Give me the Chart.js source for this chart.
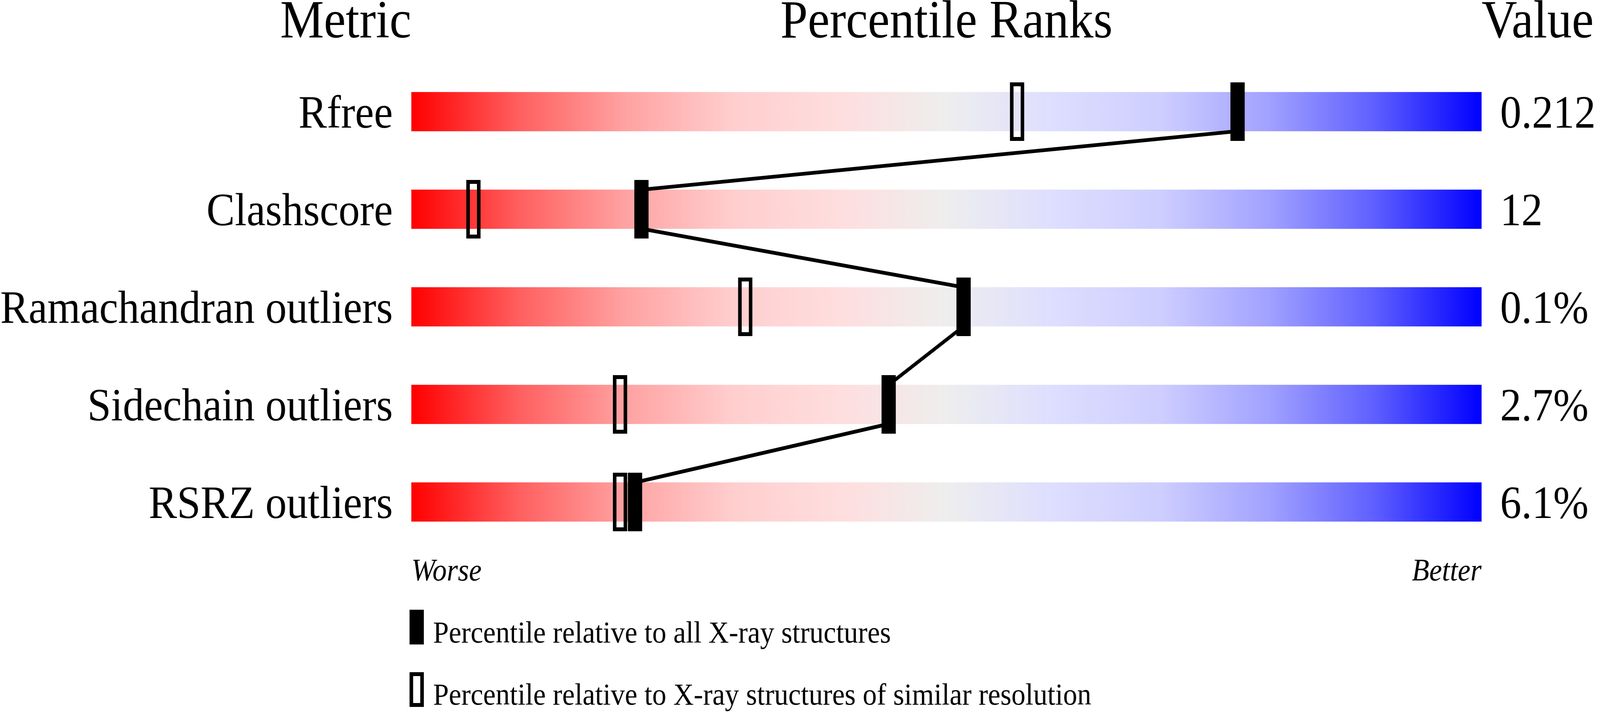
<!DOCTYPE html>
<html>
<head>
<meta charset="utf-8">
<script src="https://cdn.jsdelivr.net/npm/chart.js@4/dist/chart.umd.min.js"></script>
<style>
  html, body { margin: 0; padding: 0; background: #ffffff; overflow: hidden; }
  #c { display: block; }
</style>
</head>
<body>
<canvas id="c" width="4485" height="1824" style="width:100vw;height:100vh;"></canvas>
<script>
// ---------- data ----------
const metrics = ['Rfree', 'Clashscore', 'Ramachandran outliers', 'Sidechain outliers', 'RSRZ outliers'];
const valueLabels = ['0.212', '12', '0.1%', '2.7%', '6.1%'];
const pctAll = [77.2, 21.5, 51.6, 44.6, 20.9];       // percentile vs all X-ray structures
const pctSimilar = [56.6, 5.8, 31.2, 19.5, 19.5];    // percentile vs similar resolution
const scaleRange = [0, 100];
const headerLabels = ['Metric', 'Percentile Ranks', 'Value'];
const scaleEnds = ['Worse', 'Better'];
const legendLabels = ['Percentile relative to all X-ray structures',
                      'Percentile relative to X-ray structures of similar resolution'];

// ---------- styles ----------
const SERIF = "'Liberation Serif', 'Times New Roman', serif";
function makeMarker(w, h, filled) {
  const cv = document.createElement('canvas');
  cv.width = w; cv.height = h;
  const g = cv.getContext('2d');
  g.fillStyle = '#000';
  if (filled) {
    g.fillRect(0, 0, w, h);
  } else {
    g.fillRect(0, 0, w, 10);
    g.fillRect(0, h - 10, w, 10);
    g.fillRect(0, 0, 10, h);
    g.fillRect(w - 10, 0, 10, h);
  }
  return cv;
}
const markerFilled = makeMarker(40, 150, true);
const markerHollow = makeMarker(40, 150, false);
const legendFilled = makeMarker(40, 89, true);
const legendHollow = makeMarker(40, 89, false);

const gradStops = [
  [0.0, 'rgb(255,0,0)'],
  [0.1, 'rgb(255,95,95)'],
  [0.2, 'rgb(255,162,162)'],
  [0.3, 'rgb(255,206,206)'],
  [0.4, 'rgb(255,222,222)'],
  [0.5, 'rgb(238,238,238)'],
  [0.6, 'rgb(222,222,255)'],
  [0.7, 'rgb(206,206,255)'],
  [0.8, 'rgb(162,162,255)'],
  [0.9, 'rgb(95,95,255)'],
  [1.0, 'rgb(0,0,255)']
];
let gradCache = null;
function barGradient(context) {
  const chart = context.chart;
  const area = chart.chartArea;
  if (!area) return 'rgb(238,238,238)';
  if (!gradCache || gradCache.l !== area.left || gradCache.r !== area.right) {
    const g = chart.ctx.createLinearGradient(area.left, 0, area.right, 0);
    gradStops.forEach(s => g.addColorStop(s[0], s[1]));
    gradCache = { l: area.left, r: area.right, g: g };
  }
  return gradCache.g;
}

// ---------- plugin: connector line + texts ----------
const decorPlugin = {
  id: 'decor',
  afterDatasetDraw(chart, args) {
    if (args.index !== 0) return;
    const ctx = chart.ctx;
    const xs = chart.scales.x;
    const bars = chart.getDatasetMeta(0).data;
    ctx.save();
    ctx.strokeStyle = '#000';
    ctx.lineWidth = 9.5;
    ctx.beginPath();
    pctAll.forEach((v, i) => {
      const px = xs.getPixelForValue(v);
      const half = bars[i].height / 2;
      const top = bars[i].y - half, bot = bars[i].y + half;
      if (i === 0) ctx.moveTo(px, bot);
      else {
        ctx.lineTo(px, top);
        if (i < pctAll.length - 1) ctx.moveTo(px, bot);
      }
    });
    ctx.stroke();
    ctx.restore();
  },
  afterDraw(chart) {
    const ctx = chart.ctx;
    const a = chart.chartArea;
    ctx.save();
    ctx.fillStyle = '#000';
    ctx.textBaseline = 'alphabetic';
    // headers
    ctx.font = '138px ' + SERIF;
    ctx.textAlign = 'right';
    ctx.fillText(headerLabels[0], a.left, 96);
    ctx.textAlign = 'center';
    ctx.fillText(headerLabels[1], (a.left + a.right) / 2, 96);
    ctx.textAlign = 'left';
    ctx.fillText(headerLabels[2], a.right, 96);
    // worse / better
    ctx.font = 'italic 80px ' + SERIF;
    ctx.textAlign = 'left';
    ctx.fillText(scaleEnds[0], a.left, 1487);
    ctx.textAlign = 'right';
    ctx.fillText(scaleEnds[1], a.right, 1487);
    // legend
    ctx.font = '79px ' + SERIF;
    ctx.textAlign = 'left';
    const lx = a.left - 5;
    ctx.drawImage(legendFilled, lx, 1562);
    ctx.fillText(legendLabels[0], lx + 66, 1646);
    ctx.drawImage(legendHollow, lx, 1722);
    ctx.fillText(legendLabels[1], lx + 66, 1805);
    ctx.restore();
  }
};

// ---------- chart ----------
new Chart(document.getElementById('c'), {
  type: 'bar',
  data: {
    labels: metrics,
    datasets: [
      {
        type: 'bar',
        label: 'range',
        data: metrics.map(() => scaleRange),
        backgroundColor: barGradient,
        borderWidth: 0,
        barThickness: 100,
        order: 3
      },
      {
        type: 'line',
        label: legendLabels[1],
        indexAxis: 'y',
        data: pctSimilar,
        showLine: false,
        pointStyle: markerHollow,
        pointRadius: 5,
        order: 2
      },
      {
        type: 'line',
        label: legendLabels[0],
        indexAxis: 'y',
        data: pctAll,
        showLine: false,
        pointStyle: markerFilled,
        pointRadius: 5,
        order: 1
      }
    ]
  },
  options: {
    indexAxis: 'y',
    responsive: false,
    maintainAspectRatio: false,
    devicePixelRatio: 1,
    animation: false,
    events: [],
    layout: { padding: { top: 161, bottom: 413, left: 0, right: 0 } },
    plugins: {
      legend: { display: false },
      tooltip: { enabled: false },
      title: { display: false }
    },
    scales: {
      x: {
        type: 'linear',
        min: scaleRange[0],
        max: scaleRange[1],
        display: false
      },
      y: {
        type: 'category',
        position: 'left',
        offset: true,
        grid: { display: false, drawTicks: false },
        border: { display: false },
        ticks: {
          color: '#000',
          font: { family: SERIF, size: 119 },
          padding: 52,
          labelOffset: 10
        },
        afterFit(scale) { scale.width = 1153; }
      },
      y2: {
        type: 'category',
        position: 'right',
        labels: valueLabels,
        offset: true,
        grid: { display: false, drawTicks: false },
        border: { display: false },
        ticks: {
          color: '#000',
          font: { family: SERIF, size: 119 },
          padding: 52,
          labelOffset: 10,
          crossAlign: 'near'
        },
        afterFit(scale) { scale.width = 332; }
      }
    }
  },
  plugins: [decorPlugin]
});
</script>
</body>
</html>
